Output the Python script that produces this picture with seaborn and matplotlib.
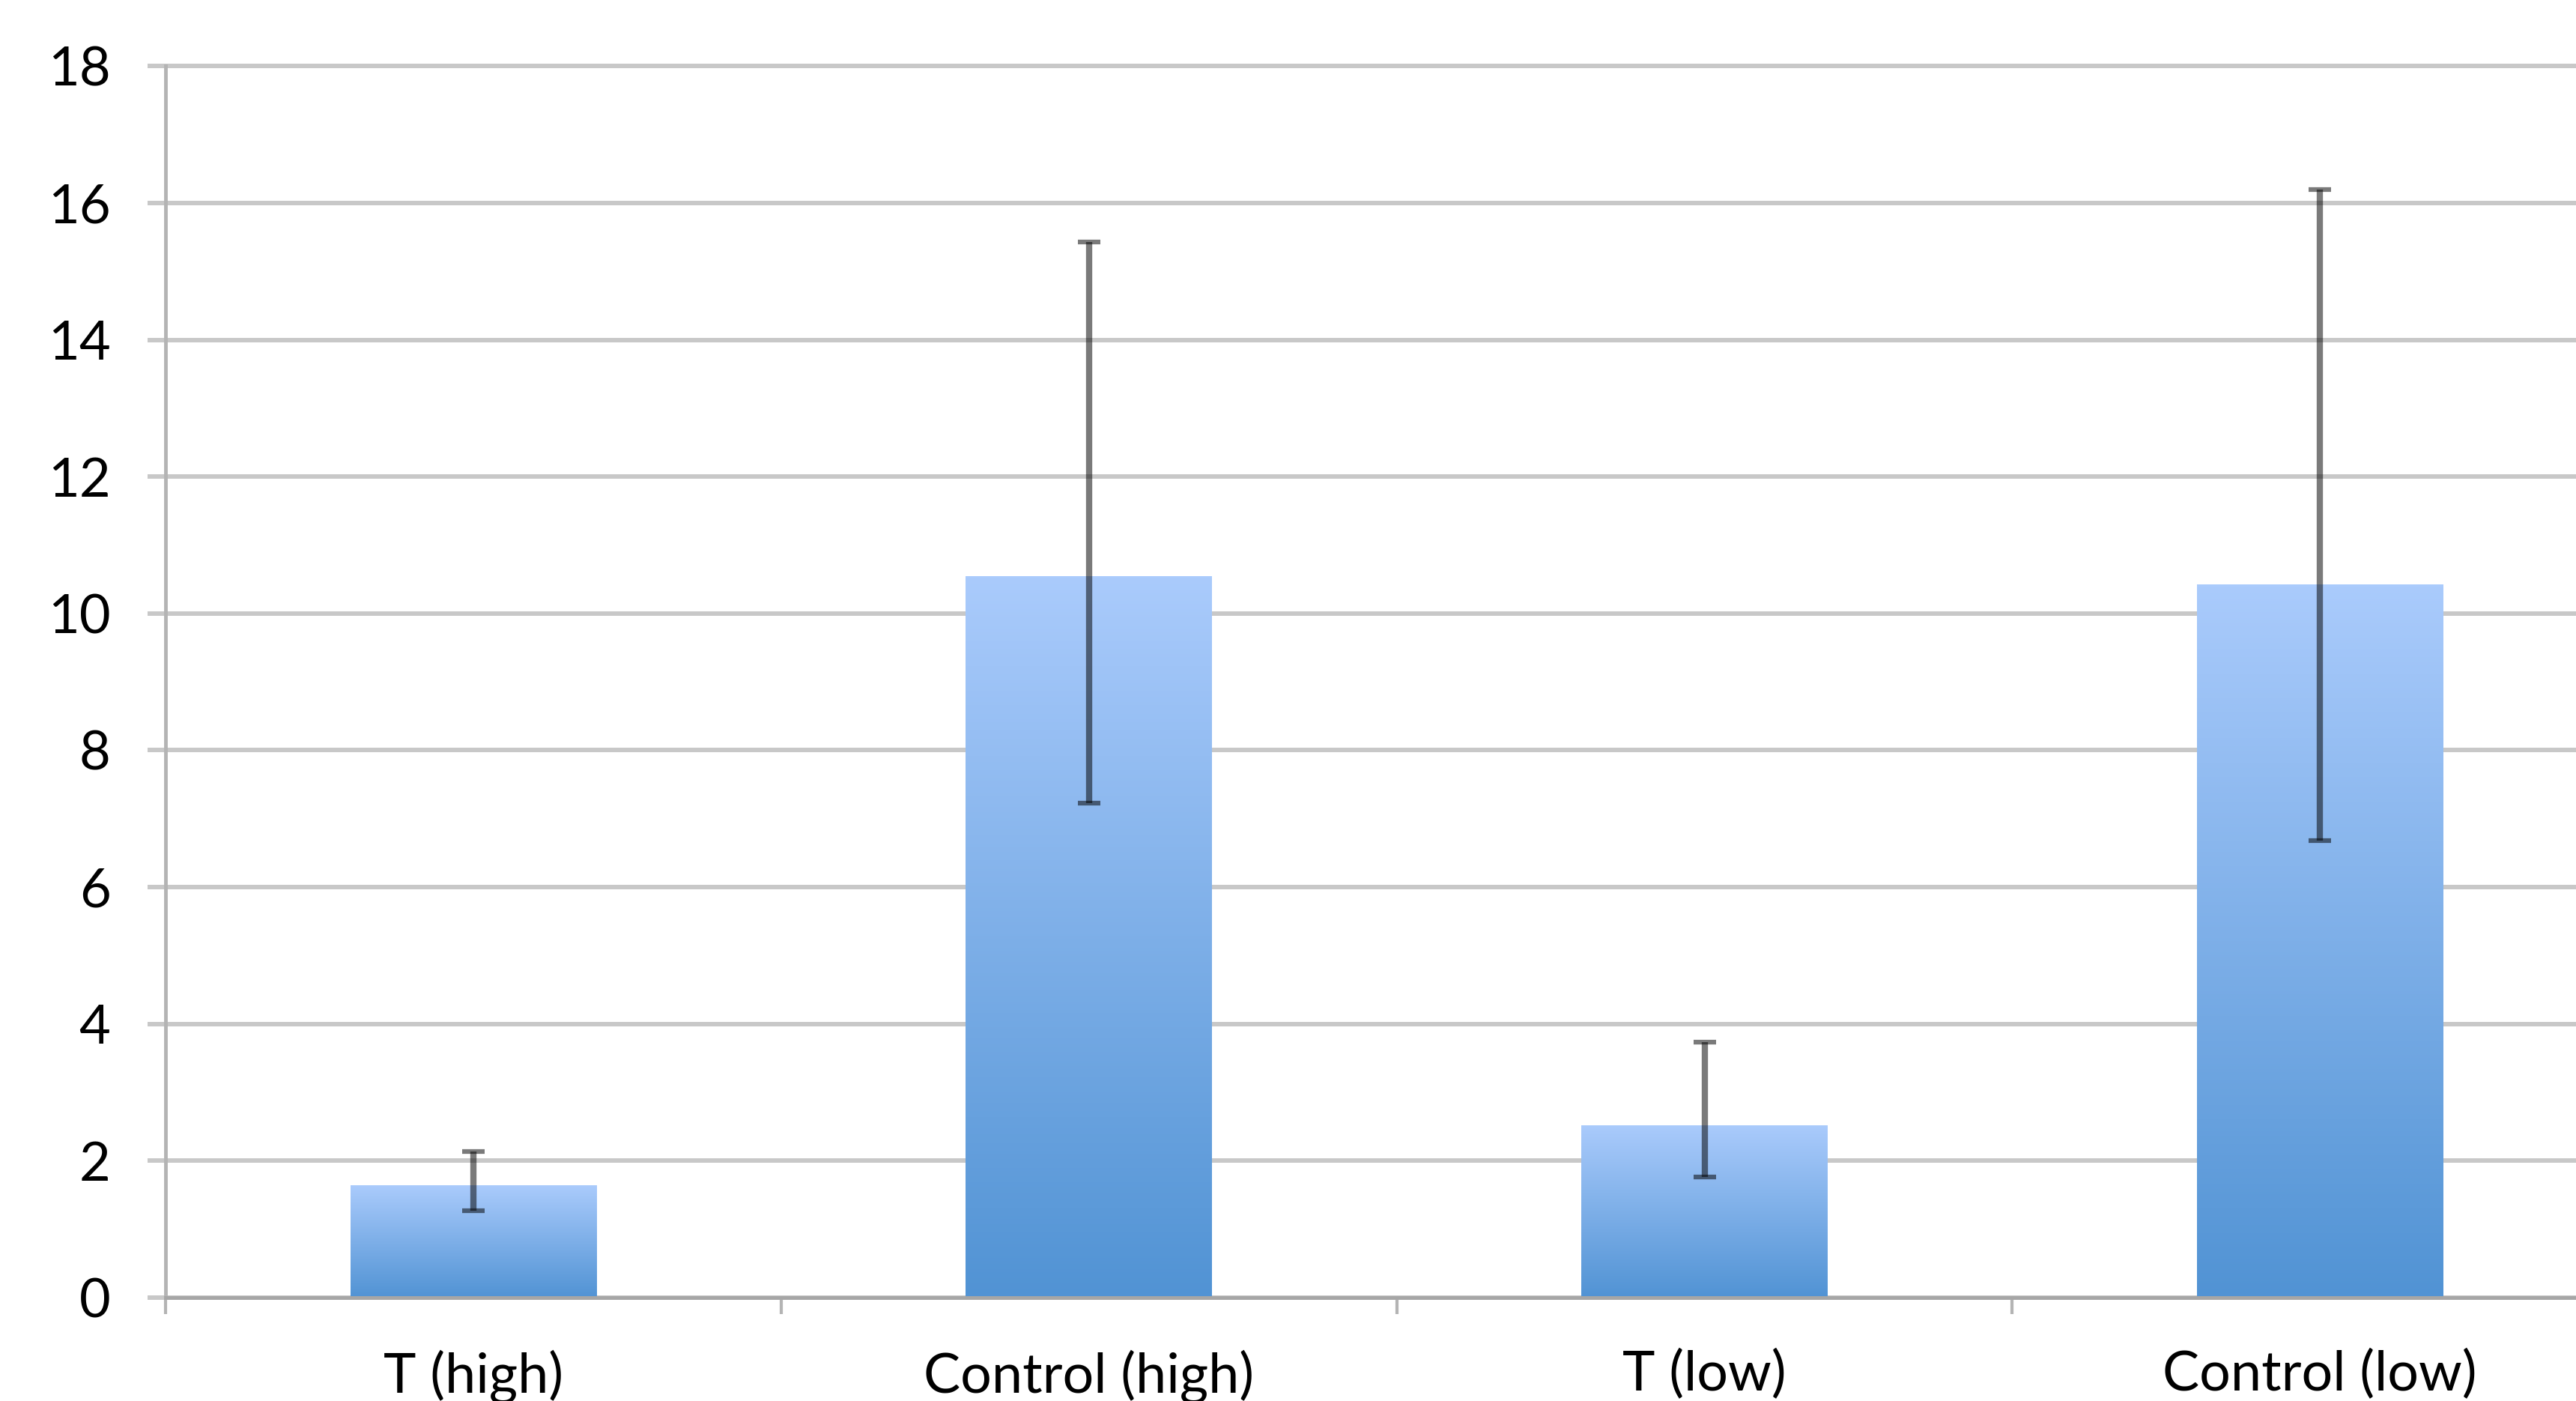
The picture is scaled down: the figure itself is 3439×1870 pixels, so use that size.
import numpy as np
import pandas as pd
import matplotlib
matplotlib.use("Agg")
import matplotlib.pyplot as plt
import seaborn as sns
from matplotlib.colors import LinearSegmentedColormap

# values
groups = ['T (high)', 'Control (high)', 'T (low)', 'Control (low)']
means = [1.64, 10.55, 2.52, 10.42]
err_low = [1.27, 7.23, 1.76, 6.68]
err_high = [2.14, 15.43, 3.73, 16.2]
y_ticks = [0, 2, 4, 6, 8, 10, 12, 14, 16, 18]

df = pd.DataFrame({'group': groups, 'value': means})

sns.set_theme(style='white')
plt.rcParams['font.family'] = ['Lato', 'DejaVu Sans']

fig = plt.figure(figsize=(34.39, 18.70), dpi=100)
ax = fig.add_axes([0.0643, 0.0738, 0.9558, 0.879])

sns.barplot(data=df, x='group', y='value', width=0.4, color='#7aaee8',
            errorbar=None, ax=ax, zorder=2)

# vertical gradient fill for each bar, clipped to the bar shape
cmap = LinearSegmentedColormap.from_list('bluegrad', ['#5193d4', '#aacbfc'])
grad = np.linspace(0, 1, 256).reshape(-1, 1)
for p in ax.patches:
    x0, y0 = p.get_x(), p.get_y()
    w, h = p.get_width(), p.get_height()
    im = ax.imshow(grad, cmap=cmap, aspect='auto', origin='lower',
                   extent=[x0, x0 + w, y0, y0 + h], zorder=2.1)
    im.set_clip_path(p)
    p.set_facecolor('none')
    p.set_edgecolor('none')

# asymmetric error bars
yerr = [np.array(means) - np.array(err_low), np.array(err_high) - np.array(means)]
ax.errorbar(np.arange(len(groups)), means, yerr=yerr, fmt='none',
            ecolor='black', alpha=0.52, elinewidth=6, capsize=11,
            capthick=4.5, zorder=3)

ax.set_xlim(-0.5, len(groups) - 0.5)
ax.set_ylim(0, 18)
ax.set_yticks(y_ticks)
ax.set_yticklabels([str(t) for t in y_ticks])
ax.set_xlabel('')
ax.set_ylabel('')

ax.yaxis.grid(True, color='#c8c8c8', linewidth=4.3, zorder=0)
ax.set_axisbelow(True)
for gl in ax.get_ygridlines():
    gl.set_clip_on(False)

sns.despine(ax=ax, top=True, right=True)
ax.spines['left'].set_color('#b4b4b4')
ax.spines['left'].set_linewidth(3.5)
ax.spines['bottom'].set_color('#a6a6a6')
ax.spines['bottom'].set_linewidth(3.5)
ax.spines['left'].set_zorder(1)

# category boundary ticks on the x axis
ax.set_xticks(np.arange(len(groups)))
ax.set_xticklabels(groups)
ax.set_xticks(np.arange(-0.5, len(groups), 1), minor=True)
ax.tick_params(axis='x', which='major', length=0, pad=50, labelsize=53,
               labelcolor='black')
ax.tick_params(axis='x', which='minor', length=16, width=3, color='#b4b4b4',
               direction='out', bottom=True)
ax.tick_params(axis='y', which='major', length=17, width=4.3, color='#c8c8c8',
               direction='out', left=True, pad=36, labelsize=52,
               labelcolor='black')

fig.savefig('out.png', dpi=100, facecolor='white')
